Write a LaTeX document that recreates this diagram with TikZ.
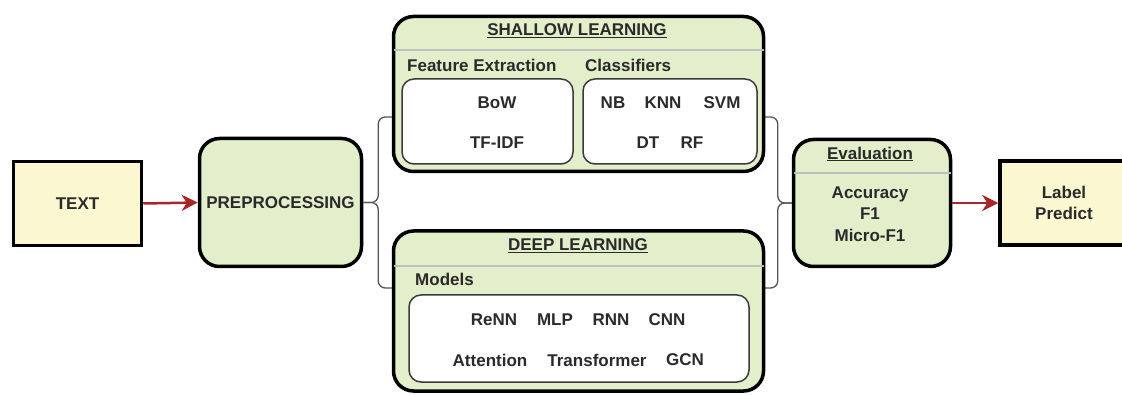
\documentclass[tikz,border=0pt]{standalone}
\usepackage{fontspec}
\setmainfont{Liberation Sans}
\usetikzlibrary{arrows.meta}
\definecolor{ink}{HTML}{2A2A2A}
\definecolor{paleyellow}{HTML}{FBF7D0}
\definecolor{palegreen}{HTML}{E3EECB}
\definecolor{innerline}{HTML}{3A3A3A}
\definecolor{sepgray}{HTML}{BEBEBE}
\definecolor{arrowred}{HTML}{A8262A}
\definecolor{braceline}{HTML}{555555}
\begin{document}
\begin{tikzpicture}[x=1pt,y=-1pt,
  every node/.style={font=\fontsize{17}{21.5}\selectfont\bfseries, text=ink, inner sep=0pt},
  termbox/.style={draw=black, line width=3.5pt, fill=paleyellow, align=center},
  stagebox/.style={draw=black, line width=3.5pt, fill=palegreen, rounded corners=20pt},
  itembox/.style={draw=innerline, line width=1.5pt, fill=white, rounded corners=12pt},
  headsep/.style={draw=sepgray, line width=2pt, shorten <=1.75pt, shorten >=1.75pt},
  flow/.style={draw=arrowred, line width=2.5pt, -{Stealth[length=16pt,width=16pt,inset=5pt]}},
  bracket/.style={draw=braceline, line width=1.3pt, rounded corners=7pt}
]
\useasboundingbox (0,0) rectangle (1122,395);

% terminals and stages
\node[termbox, minimum width=128pt, minimum height=84pt] (text) at (77.5,203.5) {TEXT};
\node[stagebox, minimum width=162pt, minimum height=128pt] (pre) at (280.5,202.5) {};
\node at (pre.center) {PREPROCESSING};
\node[stagebox, minimum width=157pt, minimum height=127pt] (eval) at (872,203) {};
\node[termbox, minimum width=128pt, minimum height=84pt] (out) at (1064,203) {Label\\Predict};

% brackets joining the two learning branches
\coordinate (lb-top) at (394,117);
\coordinate (lb-bot) at (394,288);
\coordinate (rb-top) at (763,117);
\coordinate (rb-bot) at (763,288);
\draw[bracket] (pre.east) -- ++(15,0) |- (lb-top);
\draw[bracket] (pre.east) -- ++(15,0) |- (lb-bot);
\draw[bracket] (eval.west) -- ++(-14,0) |- (rb-top);
\draw[bracket] (eval.west) -- ++(-14,0) |- (rb-bot);

% shallow learning
\node[stagebox, minimum width=370pt, minimum height=155pt] (shallow) at (578.5,94) {};
\draw[headsep] (shallow.west |- 0,50) -- (shallow.east |- 0,50);
\node (shallow-title) at (577,31) {\underline{SHALLOW LEARNING}};
\node[anchor=west] (fe-label) at (407,65) {Feature Extraction};
\node[anchor=west] (cl-label) at (585,65) {Classifiers};
\node[itembox, minimum width=171pt, minimum height=85pt] (fe) at (487.5,121.5) {};
\node[itembox, minimum width=174pt, minimum height=85pt] (cl) at (670,121.5) {};
\node (bow) at (497,103) {BoW};
\node (tfidf) at (497,143) {TF-IDF};
\node (nb) at (613,103) {NB};
\node (knn) at (663,103) {KNN};
\node (svm) at (722,103) {SVM};
\node (dt) at (648,143) {DT};
\node (rf) at (692,143) {RF};

% deep learning
\node[stagebox, minimum width=370pt, minimum height=160pt] (deep) at (578.5,311) {};
\draw[headsep] (deep.west |- 0,266) -- (deep.east |- 0,266);
\node (deep-title) at (578,246) {\underline{DEEP LEARNING}};
\node[anchor=west] (md-label) at (415,279) {Models};
\node[itembox, minimum width=340pt, minimum height=87pt] (md) at (579,338.5) {};
\node (renn) at (494,320) {ReNN};
\node (mlp) at (555,320) {MLP};
\node (rnn) at (611,320) {RNN};
\node (cnn) at (667,320) {CNN};
\node (attn) at (490,360) {Attention};
\node (trf) at (597,360) {Transformer};
\node (gcn) at (685,360) {GCN};

% evaluation
\draw[headsep] (eval.west |- 0,173) -- (eval.east |- 0,173);
\node (eval-title) at (870,154) {\underline{Evaluation}};
\node[align=center] (metrics) at (870,214) {Accuracy\\F1\\Micro-F1};

% main flow
\draw[flow] (text.east) -- (pre.west);
\draw[flow] (eval.east) -- (out.west);
\end{tikzpicture}
\end{document}
